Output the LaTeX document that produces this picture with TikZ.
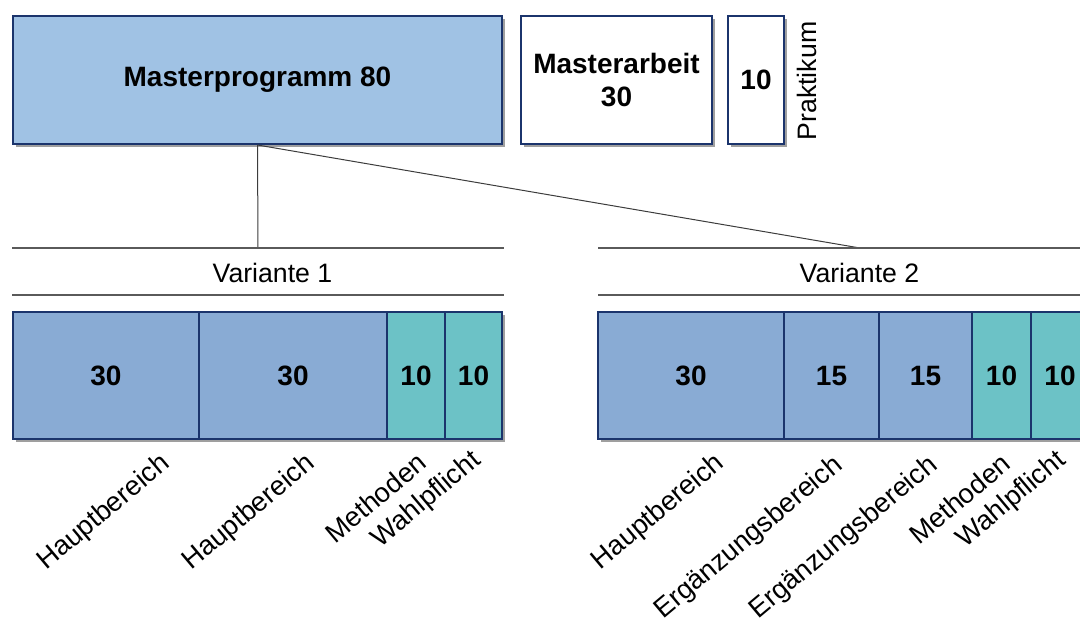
\documentclass[tikz,border=0pt]{standalone}
\usepackage{fontspec}
\setmainfont{Liberation Sans}
\usetikzlibrary{shadows}
\definecolor{navy}{RGB}{27,52,108}
\definecolor{mpblue}{RGB}{160,194,228}
\definecolor{modblue}{RGB}{137,171,212}
\definecolor{modteal}{RGB}{108,194,198}
\definecolor{linegray}{RGB}{60,60,60}
\definecolor{rulegray}{RGB}{90,90,90}
\begin{document}
\begin{tikzpicture}[x=0.75pt, y=-0.75pt,
  box/.style={draw=navy, line width=1.5pt, inner sep=0pt, align=center,
    font=\fontsize{21}{25}\selectfont\bfseries,
    drop shadow={shadow xshift=2.25pt, shadow yshift=-2.25pt, fill=black!75, opacity=0.5}},
  lbl/.style={inner sep=0pt, font=\fontsize{20.5}{24}\selectfont, rotate=40},
  head/.style={inner sep=0pt, font=\fontsize{20}{24}\selectfont}]
\useasboundingbox (0,0) rectangle (1080,619);
\node[box, fill=mpblue, minimum width=366.75pt, minimum height=96pt] (mp) at (257.5,80) {Masterprogramm 80};
\node[box, fill=white, minimum width=143.25pt, minimum height=96pt] (ma) at (616.5,80) {Masterarbeit\\30};
\node[box, fill=white, minimum width=42pt, minimum height=96pt] (pr) at (756,80) {10};
\node[head, rotate=90] (prl) at (807,81) {Praktikum};
\coordinate (v1top) at (258,248);
\coordinate (v2top) at (860,248);
\draw[linegray, line width=0.75pt] (mp.south) -- (v1top);
\draw[linegray, line width=0.75pt] (mp.south) -- (v2top);
\draw[rulegray, line width=1.1pt] (12,248) -- (504,248);
\draw[rulegray, line width=1.1pt] (12,295) -- (504,295);
\draw[rulegray, line width=1.1pt] (598,248) -- (1080,248);
\draw[rulegray, line width=1.1pt] (598,295) -- (1080,295);
\node[head] (v1) at (272.5,273) {Variante 1};
\node[head] (v2) at (859.5,273) {Variante 2};
\node[box, fill=modblue, minimum width=139.5pt, minimum height=95.25pt] (v1b0) at (106,375.5) {30};
\node[box, fill=modblue, minimum width=141pt, minimum height=95.25pt] (v1b1) at (293,375.5) {30};
\node[box, fill=modteal, minimum width=43.5pt, minimum height=95.25pt] (v1b2) at (416,375.5) {10};
\node[box, fill=modteal, minimum width=42.75pt, minimum height=95.25pt] (v1b3) at (473.5,375.5) {10};
\node[box, fill=modblue, minimum width=139.5pt, minimum height=95.25pt] (v2b0) at (691,375.5) {30};
\node[box, fill=modblue, minimum width=71.25pt, minimum height=95.25pt] (v2b1) at (831.5,375.5) {15};
\node[box, fill=modblue, minimum width=69.75pt, minimum height=95.25pt] (v2b2) at (925.5,375.5) {15};
\node[box, fill=modteal, minimum width=44.25pt, minimum height=95.25pt] (v2b3) at (1001.5,375.5) {10};
\node[box, fill=modteal, minimum width=43.5pt, minimum height=95.25pt] (v2b4) at (1060,375.5) {10};
\node[lbl] (v1l0) at (104,513) {Hauptbereich};
\node[lbl] (v1l1) at (249,513) {Hauptbereich};
\node[lbl] (v1l2) at (375.5,497.5) {Methoden};
\node[lbl] (v1l3) at (426.5,500) {Wahlpflicht};
\node[lbl] (v2l0) at (658.5,512.5) {Hauptbereich};
\node[lbl] (v2l1) at (749,538) {Ergänzungsbereich};
\node[lbl] (v2l2) at (844,538) {Ergänzungsbereich};
\node[lbl] (v2l3) at (959.5,498.5) {Methoden};
\node[lbl] (v2l4) at (1011.5,500) {Wahlpflicht};
\end{tikzpicture}
\end{document}
